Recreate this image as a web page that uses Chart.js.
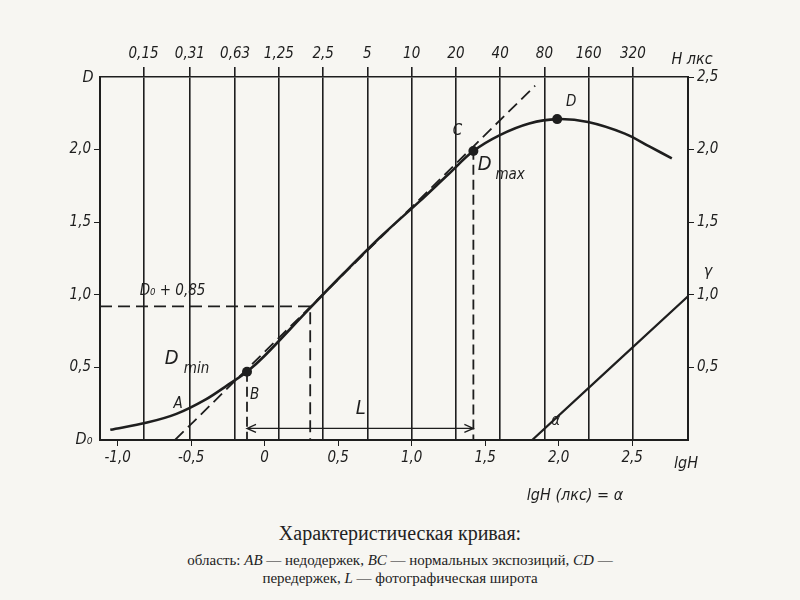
<!DOCTYPE html>
<html><head><meta charset="utf-8">
<script src="https://cdn.jsdelivr.net/npm/chart.js@4"></script>
<style>
body{margin:0;background:#f7f6f2;font-family:"Liberation Serif",serif;color:#222}
#wrap{width:800px;height:518px;position:relative}
.cap{text-align:center;font-size:20px;margin-top:4px}
.sub{text-align:center;font-size:15px;line-height:18px;margin-top:6px}
</style></head><body>
<div id="wrap"><canvas id="c"></canvas></div>
<div class="cap">Характеристическая кривая:</div>
<div class="sub">область: <i>AB</i> — недодержек, <i>BC</i> — нормальных экспозиций, <i>CD</i> —<br>передержек, <i>L</i> — фотографическая широта</div>
<script>
// характеристическая кривая D(lgH)
const curve = [[-1.05,0.07],[-0.8,0.12],[-0.6,0.18],[-0.4,0.28],[-0.25,0.38],[-0.12,0.47],[0,0.58],[0.3,0.9],[0.54,1.15],[0.8,1.41],[1.05,1.64],[1.25,1.83],[1.42,1.99],[1.6,2.1],[1.8,2.18],[1.99,2.21],[2.2,2.19],[2.45,2.11],[2.62,2.02],[2.77,1.94]];
const tangent = [[-0.61,0],[1.84,2.44]];
const gammaLine = [[1.82,0],[2.88,0.99]];
const levelLine = [[-1.12,0.92],[0.31,0.92],[0.31,0]];
const bLine = [[-0.12,0.47],[-0.12,0]];
const cLine = [[1.42,2.0],[1.42,0]];
const luxLabels = ["0,15","0,31","0,63","1,25","2,5","5","10","20","40","80","160","320"];
const luxValues = [0.15,0.31,0.63,1.25,2.5,5,10,20,40,80,160,320];
const lgTicks = [-1.0,-0.5,0,0.5,1.0,1.5,2.0,2.5];
const dTicksLeft = [0.5,1.0,1.5,2.0];
const dTicksRight = [0.5,1.0,1.5,2.0,2.5];

const pts = a => a.map(([x,y]) => ({x,y}));
const ink = "#1e1e1e";
const font = {family:"DejaVu Sans Condensed", size:15, style:"italic"};
const fmt = v => v === 0 ? "0" : v.toFixed(1).replace(".", ",");

const notes = {
  id:"notes",
  afterDatasetsDraw(chart){
    const {ctx, scales:{x, y}} = chart;
    ctx.save();
    ctx.fillStyle = ink; ctx.strokeStyle = ink;
    ctx.font = "italic 15px 'DejaVu Sans Condensed'";
    const t = (s, xv, yv) => ctx.fillText(s, x.getPixelForValue(xv), y.getPixelForValue(yv));
    // точки
    [[-0.12,0.47],[1.42,1.99],[1.99,2.21]].forEach(([a,b]) => {
      ctx.beginPath(); ctx.arc(x.getPixelForValue(a), y.getPixelForValue(b), 5, 0, 7); ctx.fill();
    });
    t("A",-0.62,0.22); t("B",-0.1,0.28); t("C",1.28,2.1); t("D",2.05,2.3);
    t("D₀ + 0,85",-0.85,1.0);
    ctx.font = "italic 20px 'DejaVu Sans Condensed'";
    t("D",-0.68,0.52); t("L",0.62,0.18); t("D",1.45,1.86);
    ctx.font = "italic 15px 'DejaVu Sans Condensed'";
    t("min",-0.55,0.46); t("max",1.57,1.8);
    t("α",1.95,0.1);
    // стрелка L
    const y0 = y.getPixelForValue(0.08), x1 = x.getPixelForValue(-0.12), x2 = x.getPixelForValue(1.42);
    ctx.lineWidth = 1.3;
    ctx.beginPath(); ctx.moveTo(x1,y0); ctx.lineTo(x2,y0);
    ctx.moveTo(x1+9,y0-4); ctx.lineTo(x1,y0); ctx.lineTo(x1+9,y0+4);
    ctx.moveTo(x2-9,y0-4); ctx.lineTo(x2,y0); ctx.lineTo(x2-9,y0+4); ctx.stroke();
    // подписи осей
    ctx.font = "italic 16px 'DejaVu Sans Condensed'";
    ctx.textAlign = "center";
    ctx.fillText("D", 88, 82);
    ctx.fillText("H лкс", 692, 64);
    ctx.fillText("γ", 708, 276);
    ctx.fillText("D₀", 84, 444);
    ctx.fillText("lgH", 686, 468);
    ctx.fillText("lgH (лкс) = α", 575, 500);
    ctx.restore();
  }
};

const line = (data, dash, w) => ({type:"line", data:pts(data), borderColor:ink, borderWidth:w, borderDash:dash, pointRadius:0, tension:0.35, fill:false});

new Chart(document.getElementById("c"), {
  type:"scatter",
  data:{datasets:[
    line(curve, [], 2.6),
    line(tangent, [12,6], 1.8),
    line(gammaLine, [], 2.2),
    {...line(levelLine, [12,6], 1.8), tension:0},
    line(bLine, [10,5], 1.8),
    line(cLine, [10,5], 1.8)
  ]},
  plugins:[notes],
  options:{
    responsive:true, maintainAspectRatio:false, animation:false,
    plugins:{legend:{display:false}, tooltip:{enabled:false}},
    scales:{
      x:{type:"linear", min:-1.12, max:2.88, position:"bottom",
        afterBuildTicks:s => { s.ticks = lgTicks.map(v => ({value:v})); },
        afterFit:s => { s.height = 78; },
        ticks:{color:ink, font, callback:v => fmt(v)},
        grid:{drawOnChartArea:false, color:ink, tickLength:6}, border:{color:ink, width:2}},
      top:{type:"linear", min:-1.12, max:2.88, position:"top",
        afterBuildTicks:s => { s.ticks = luxValues.map(v => ({value:Math.log10(v)})); },
        afterFit:s => { s.height = 77; },
        ticks:{color:ink, font, padding:4, callback:(v,i) => luxLabels[i]},
        grid:{color:ink, lineWidth:1.6, tickLength:10}, border:{color:ink, width:1.6}},
      y:{min:0, max:2.5, position:"left",
        afterBuildTicks:s => { s.ticks = dTicksLeft.map(v => ({value:v})); },
        afterFit:s => { s.width = 100; },
        ticks:{color:ink, font, callback:v => fmt(v)},
        grid:{drawOnChartArea:false, color:ink, tickLength:6}, border:{color:ink, width:2}},
      y2:{min:0, max:2.5, position:"right",
        afterBuildTicks:s => { s.ticks = dTicksRight.map(v => ({value:v})); },
        afterFit:s => { s.width = 112; },
        ticks:{color:ink, font, callback:v => fmt(v)},
        grid:{drawOnChartArea:false, color:ink, tickLength:6}, border:{color:ink, width:2}}
    }
  }
});
</script>
</body></html>
